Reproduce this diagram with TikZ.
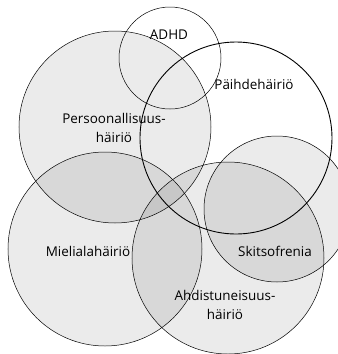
\documentclass[tikz,border=0pt]{standalone}
\usepackage{fontspec}
\setmainfont{Open Sans}
\begin{document}
\begin{tikzpicture}[x=1bp,y=-1bp,
  venn/.style={circle, inner sep=0pt, draw=black, line width=0.5pt},
  dotfill/.style={fill=black, fill opacity=0.08},
  lbl/.style={font=\fontsize{13.5}{19}\selectfont, align=center, inner sep=0pt, text=black}]
\clip (0,0) rectangle (338,354);
\fill[white] (0,0) rectangle (338,354);
% fills
\node[venn, dotfill, draw=none, minimum size=192bp] at (115,127) {};
\node[venn, dotfill, draw=none, minimum size=194bp] at (105,249) {};
\node[venn, dotfill, draw=none, minimum size=192bp] at (228,258) {};
\node[venn, dotfill, draw=none, minimum size=146bp] at (277,209) {};
% outlines
\node[venn, minimum size=102bp] (adhd) at (170,58) {};
\node[venn, minimum size=192bp] (pers) at (115,127) {};
\node[venn, minimum size=192bp, line width=0.9pt] (paih) at (236,138) {};
\node[venn, minimum size=194bp] (miel) at (105,249) {};
\node[venn, minimum size=192bp] (ahd) at (228,258) {};
\node[venn, minimum size=146bp] (skit) at (277,209) {};
% labels
\node[lbl] (tadhd) at (169,35) {ADHD};
\node[lbl] (tpaih) at (254,84) {Päihdehäiriö};
\node[lbl] (tpers) at (114,128) {Persoonallisuus-\\häiriö};
\node[lbl] (tmiel) at (88,251) {Mielialahäiriö};
\node[lbl] (tskit) at (275,251) {Skitsofrenia};
\node[lbl] (tahd) at (225,305) {Ahdistuneisuus-\\häiriö};
\end{tikzpicture}
\end{document}
